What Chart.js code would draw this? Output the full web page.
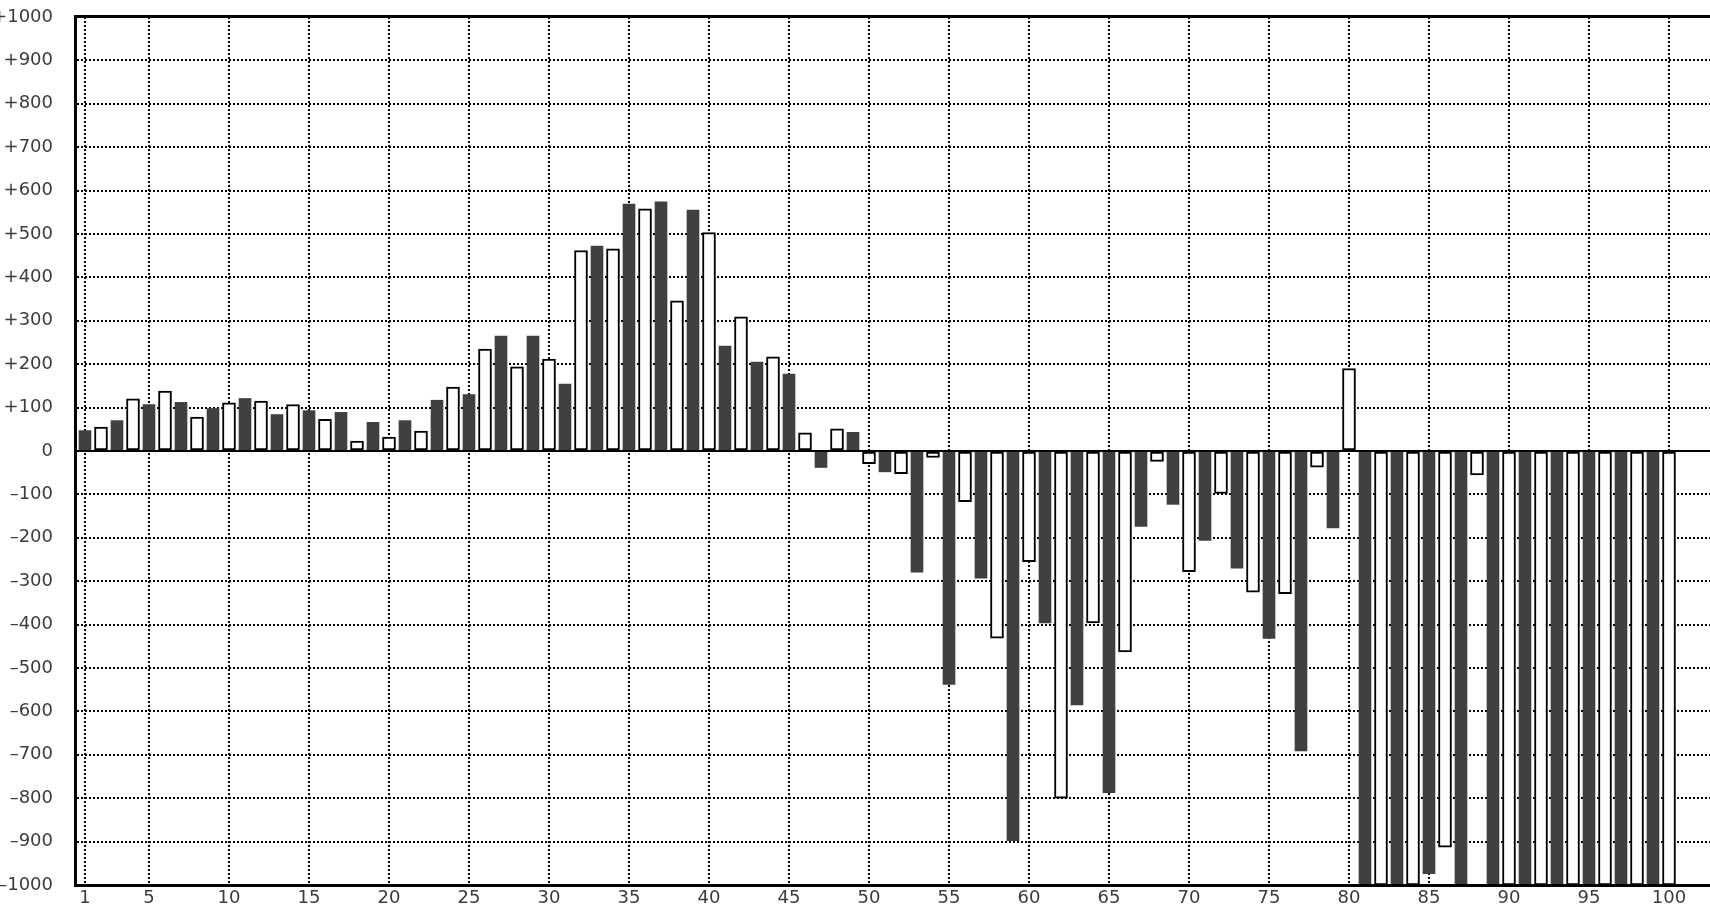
<!DOCTYPE html>
<html>
<head>
<meta charset="utf-8">
<script src="https://cdn.jsdelivr.net/npm/chart.js@4/dist/chart.umd.min.js"></script>
<style>
  html, body { margin: 0; padding: 0; overflow: hidden; background: #fff; width: 1710px; height: 908px; }
  #chart { position: absolute; left: -8px; top: 0; }
</style>
</head>
<body>
<canvas id="chart" width="1722" height="915"></canvas>
<script>
const categories = [
  1, 2, 3, 4, 5, 6, 7, 8, 9, 10, 11, 12, 13, 14, 15, 16, 17, 18, 19, 20,
  21, 22, 23, 24, 25, 26, 27, 28, 29, 30, 31, 32, 33, 34, 35, 36, 37, 38, 39, 40,
  41, 42, 43, 44, 45, 46, 47, 48, 49, 50, 51, 52, 53, 54, 55, 56, 57, 58, 59, 60,
  61, 62, 63, 64, 65, 66, 67, 68, 69, 70, 71, 72, 73, 74, 75, 76, 77, 78, 79, 80,
  81, 82, 83, 84, 85, 86, 87, 88, 89, 90, 91, 92, 93, 94, 95, 96, 97, 98, 99, 100
];
const values = [
  47, 55, 70, 120, 107, 138, 112, 78, 98, 111,
  121, 115, 84, 107, 93, 73, 89, 23, 66, 32,
  70, 46, 117, 147, 130, 235, 265, 194, 265, 212,
  154, 462, 472, 466, 569, 558, 574, 346, 555, 503,
  242, 309, 205, 217, 177, 42, -38, 51, 43, -29,
  -48, -52, -279, -15, -538, -117, -293, -431, -898, -255,
  -396, -800, -585, -396, -787, -463, -174, -24, -123, -278,
  -206, -98, -270, -325, -432, -329, -691, -37, -177, 190,
  -1000, -1000, -1000, -1000, -974, -913, -1000, -55, -1000, -1000,
  -1000, -1000, -1000, -1000, -1000, -1000, -1000, -1000, -1000, -1000
];
const xTickLabels = [1, 5, 10, 15, 20, 25, 30, 35, 40, 45, 50, 55, 60, 65, 70, 75, 80, 85, 90, 95, 100];
const yTickValues = [-1000, -900, -800, -700, -600, -500, -400, -300, -200, -100, 0,
  100, 200, 300, 400, 500, 600, 700, 800, 900, 1000];

// odd categories are the dark bars, even ones the outlined white bars
const darkPts = [], whitePts = [];
categories.forEach((c, i) => (c % 2 ? darkPts : whitePts).push({ x: c, y: values[i] }));

const labelFont = { family: 'DejaVu Sans', size: 18 };
const labelColor = '#3c3c3c';

// solid zero line and top frame line
const frameLines = {
  id: 'frameLines',
  afterDatasetsDraw(chart) {
    const { ctx, chartArea: a, scales: { y } } = chart;
    ctx.save();
    ctx.strokeStyle = '#000';
    ctx.lineWidth = 2;
    const y0 = Math.round(y.getPixelForValue(0));
    ctx.beginPath();
    ctx.moveTo(a.left, y0);
    ctx.lineTo(a.right, y0);
    ctx.stroke();
    ctx.lineWidth = 3;
    ctx.beginPath();
    ctx.moveTo(a.left - 1, a.top - 0.5);
    ctx.lineTo(a.right, a.top - 0.5);
    ctx.stroke();
    ctx.restore();
  }
};

new Chart(document.getElementById('chart'), {
  type: 'bar',
  data: {
    datasets: [
      {
        data: darkPts,
        backgroundColor: '#404040',
        borderWidth: 0,
        barThickness: 12,
        grouped: false
      },
      {
        data: whitePts,
        backgroundColor: '#ffffff',
        borderColor: '#000000',
        borderWidth: 2,
        borderSkipped: false,
        barThickness: 13,
        grouped: false
      }
    ]
  },
  options: {
    responsive: false,
    animation: false,
    layout: { padding: { top: 17, left: 0, right: 0, bottom: 0 } },
    plugins: { legend: { display: false }, tooltip: { enabled: false } },
    scales: {
      x: {
        type: 'linear',
        offset: false,
        min: 0.375,
        max: 102.8125,
        afterBuildTicks: s => { s.ticks = xTickLabels.map(v => ({ value: v })); },
        afterFit: s => { s.height = 30; s.paddingLeft = 0; s.paddingRight = 0; },
        grid: { offset: false, color: '#000', lineWidth: 2, drawTicks: false },
        border: { display: true, color: '#000', width: 3, dash: [2, 2], z: 1 },
        ticks: {
          autoSkip: false, maxRotation: 0, padding: 3,
          color: labelColor, font: labelFont,
          callback: v => String(v)
        }
      },
      y: {
        min: -1000,
        max: 1000,
        afterBuildTicks: s => { s.ticks = yTickValues.map(v => ({ value: v })); },
        afterFit: s => { s.width = 83; s.paddingTop = 0; s.paddingBottom = 0; },
        grid: { color: '#000', lineWidth: 2, drawTicks: false },
        border: { display: true, color: '#000', width: 3, dash: [2, 2], z: 1 },
        ticks: {
          padding: 22,
          color: labelColor, font: labelFont,
          callback: v => v > 0 ? '+' + v : (v < 0 ? '–' + (-v) : '0')
        }
      }
    }
  },
  plugins: [frameLines]
});
</script>
</body>
</html>
